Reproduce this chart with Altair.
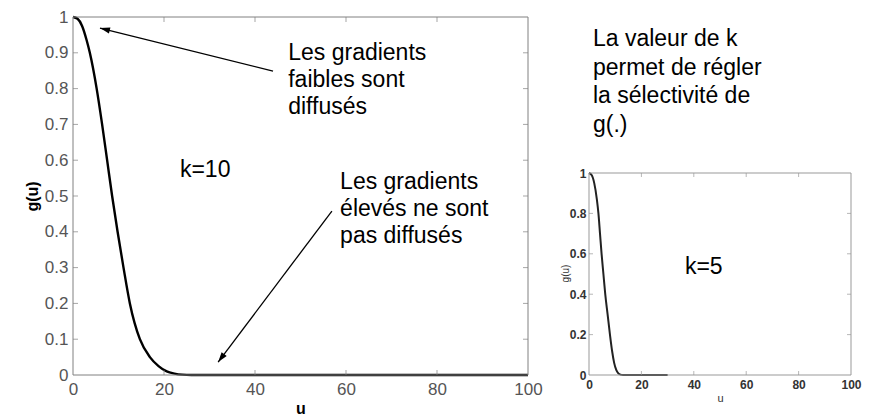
import math
import altair as alt
import pandas as pd

FONT = "Liberation Sans"

# ---- data ----
u_k10 = [0, 1, 2, 3, 3.7, 5.2, 6.4, 7.5, 8.6, 9.8, 11.1, 12.5, 14.7, 16.9, 18.8,
         20.6, 22.3, 24, 26, 30, 40, 50, 60, 70, 80, 90, 100]
g_k10 = [1.0, 0.995, 0.975, 0.935, 0.9, 0.8, 0.7, 0.6, 0.5, 0.4, 0.3, 0.2, 0.1, 0.05,
         0.025, 0.01, 0.004, 0.001, 0, 0, 0, 0, 0, 0, 0, 0, 0]

u_k5 = [0, 1, 2, 3, 3.6, 4.2, 4.8, 5.5, 6.2, 7.1, 8.0, 8.8, 9.6, 10.4, 11.2, 12, 13, 20, 30]
g_k5 = [1.0, 0.99, 0.95, 0.87, 0.8, 0.7, 0.6, 0.5, 0.4, 0.3, 0.2, 0.12, 0.06, 0.025,
        0.008, 0.002, 0, 0, 0]

x_ticks = [0, 20, 40, 60, 80, 100]
y_ticks_main = [0, 0.1, 0.2, 0.3, 0.4, 0.5, 0.6, 0.7, 0.8, 0.9, 1]
y_ticks_small = [0, 0.2, 0.4, 0.6, 0.8, 1]
inner_x = [20, 40, 60, 80]
inner_y_main = [0.1, 0.2, 0.3, 0.4, 0.5, 0.6, 0.7, 0.8, 0.9]
inner_y_small = [0.2, 0.4, 0.6, 0.8]

# annotations (data coordinates)
main_text = ["Les gradients\nfaibles sont\ndiffusés", "k=10",
             "Les gradients\nélevés ne sont\npas diffusés"]
main_text_u = [47.3, 23.5, 58.7]
main_text_g = [0.879, 0.553, 0.519]

arrow_u = [43.96, 56.9]
arrow_g = [0.849, 0.458]
arrow_u2 = [5.93, 31.9]
arrow_g2 = [0.969, 0.036]

small_text = ["La valeur de k\npermet de régler\nla sélectivité de\ng(.)", "k=5"]
small_text_u = [1.5, 36.6]
small_text_g = [1.629, 0.5]

# ---- geometry ----
MW, MH = 455, 358
SW, SH = 262, 358
S_YMAX = 358 / 202

FRAME_M = "#808080"
FRAME_S = "#999999"

xs_m = alt.Scale(domain=[0, 100], nice=False, zero=False)
ys_m = alt.Scale(domain=[0, 1], nice=False, zero=False)
xs_s = alt.Scale(domain=[0, 100], nice=False, zero=False)
ys_s = alt.Scale(domain=[0, S_YMAX], nice=False, zero=False)

ax_xm = alt.Axis(
    values=x_ticks, ticks=False, domain=False, grid=False, labelFlush=False,
    labelFont=FONT, labelFontSize=17, labelColor="#555555", labelPadding=6,
    title="u", titleFont=FONT, titleFontSize=16, titleFontWeight="bold",
    titleColor="black", titleY=33, titleBaseline="middle")
ax_ym = alt.Axis(
    values=y_ticks_main, format="~g", ticks=False, domain=False, grid=False,
    labelFlush=False, labelFont=FONT, labelFontSize=17, labelColor="#555555",
    labelPadding=5, title="g(u)", titleFont=FONT, titleFontSize=16,
    titleFontWeight="bold", titleColor="black", titleAngle=270,
    titleX=-41, titleY=179, titleBaseline="middle", titleAlign="center")
ax_xs = alt.Axis(
    values=x_ticks, ticks=False, domain=False, grid=False, labelFlush=False,
    labelFont=FONT, labelFontSize=12, labelFontWeight="bold", labelColor="#333333",
    labelPadding=4, title="u", titleFont=FONT, titleFontSize=11,
    titleFontWeight="normal", titleColor="#333333", titleY=23,
    titleBaseline="middle")
ax_ys = alt.Axis(
    values=y_ticks_small, format="~g", ticks=False, domain=False, grid=False,
    labelFlush=False, labelFont=FONT, labelFontSize=12, labelFontWeight="bold",
    labelColor="#333333", labelPadding=3, title="g(u)", titleFont=FONT,
    titleFontSize=10, titleFontWeight="normal", titleColor="#333333",
    titleAngle=270, titleX=-24, titleY=256, titleBaseline="middle",
    titleAlign="center")


def ticks_layer(xs, ys, ax, ay, uvals, gvals, orient, xoff, yoff, size, color):
    df = pd.DataFrame({"u": uvals, "g": gvals})
    return alt.Chart(df).mark_tick(orient=orient, size=size, thickness=1, color=color,
                                   xOffset=xoff, yOffset=yoff).encode(
        x=alt.X("u:Q", scale=xs, axis=ax),
        y=alt.Y("g:Q", scale=ys, axis=ay),
    )


def frame_layer(xs, ys, ax, ay, color):
    df = pd.DataFrame({"u": [0], "u2": [100], "g": [0], "g2": [1]})
    return alt.Chart(df).mark_rect(fill="transparent", stroke=color, strokeWidth=1).encode(
        x=alt.X("u:Q", scale=xs, axis=ax), x2="u2:Q",
        y=alt.Y("g:Q", scale=ys, axis=ay), y2="g2:Q",
    )


# ---- main plot ----
df10 = pd.DataFrame({"u": u_k10, "g": g_k10})
curve10 = alt.Chart(df10).mark_line(color="black", strokeWidth=2.4, interpolate="monotone").encode(
    x=alt.X("u:Q", scale=xs_m, axis=ax_xm),
    y=alt.Y("g:Q", scale=ys_m, axis=ax_ym),
)

main_txt_df = pd.DataFrame({"u": main_text_u, "g": main_text_g, "t": main_text})
main_txt = alt.Chart(main_txt_df).mark_text(
    align="left", baseline="alphabetic", font=FONT, fontSize=23, lineHeight=27,
    lineBreak="\n", color="black").encode(
    x=alt.X("u:Q", scale=xs_m, axis=ax_xm),
    y=alt.Y("g:Q", scale=ys_m, axis=ax_ym),
    text="t:N",
)

# arrow angles from pixel-space direction
px_u = MW / 100.0
px_g = MH / 1.0
angles = []
for a, b, c, d in zip(arrow_u, arrow_g, arrow_u2, arrow_g2):
    dx = (c - a) * px_u
    dy = -(d - b) * px_g
    angles.append(math.degrees(math.atan2(dx, -dy)) % 360)

arrow_df = pd.DataFrame({"u": arrow_u, "g": arrow_g, "u2": arrow_u2, "g2": arrow_g2,
                         "ang": angles})
arrow_lines = alt.Chart(arrow_df).mark_rule(color="black", strokeWidth=1.3).encode(
    x=alt.X("u:Q", scale=xs_m, axis=ax_xm), x2="u2:Q",
    y=alt.Y("g:Q", scale=ys_m, axis=ax_ym), y2="g2:Q",
)
head_df = pd.DataFrame({"u": arrow_u2, "g": arrow_g2, "ang": angles})
arrow_heads = alt.Chart(head_df).mark_point(
    shape="M0,0L0.32,1L-0.32,1Z", filled=True, color="black", opacity=1, size=400).encode(
    x=alt.X("u:Q", scale=xs_m, axis=ax_xm),
    y=alt.Y("g:Q", scale=ys_m, axis=ax_ym),
    angle=alt.Angle("ang:Q", scale=None),
)

main = alt.layer(
    curve10,
    frame_layer(xs_m, ys_m, ax_xm, ax_ym, FRAME_M),
    ticks_layer(xs_m, ys_m, ax_xm, ax_ym, inner_x, [0] * 4, "vertical", 0, -2.5, 5, FRAME_M),
    ticks_layer(xs_m, ys_m, ax_xm, ax_ym, inner_x, [1] * 4, "vertical", 0, 2.5, 5, FRAME_M),
    ticks_layer(xs_m, ys_m, ax_xm, ax_ym, [0] * 9, inner_y_main, "horizontal", 2.5, 0, 5, FRAME_M),
    ticks_layer(xs_m, ys_m, ax_xm, ax_ym, [100] * 9, inner_y_main, "horizontal", -2.5, 0, 5, FRAME_M),
    arrow_lines, arrow_heads, main_txt,
).properties(width=MW, height=MH)

# ---- small plot ----
df5 = pd.DataFrame({"u": u_k5, "g": g_k5})
curve5 = alt.Chart(df5).mark_line(color="#222222", strokeWidth=2, interpolate="monotone").encode(
    x=alt.X("u:Q", scale=xs_s, axis=ax_xs),
    y=alt.Y("g:Q", scale=ys_s, axis=ax_ys),
)

small_txt_df = pd.DataFrame({"u": small_text_u, "g": small_text_g, "t": small_text})
small_txt = alt.Chart(small_txt_df).mark_text(
    align="left", baseline="alphabetic", font=FONT, fontSize=23, lineHeight=28.7,
    lineBreak="\n", color="black").encode(
    x=alt.X("u:Q", scale=xs_s, axis=ax_xs),
    y=alt.Y("g:Q", scale=ys_s, axis=ax_ys),
    text="t:N",
)

small = alt.layer(
    curve5,
    frame_layer(xs_s, ys_s, ax_xs, ax_ys, FRAME_S),
    ticks_layer(xs_s, ys_s, ax_xs, ax_ys, inner_x, [0] * 4, "vertical", 0, -2, 4, FRAME_S),
    ticks_layer(xs_s, ys_s, ax_xs, ax_ys, inner_x, [1] * 4, "vertical", 0, 2, 4, FRAME_S),
    ticks_layer(xs_s, ys_s, ax_xs, ax_ys, [0] * 4, inner_y_small, "horizontal", 2, 0, 4, FRAME_S),
    ticks_layer(xs_s, ys_s, ax_xs, ax_ys, [100] * 4, inner_y_small, "horizontal", -2, 0, 4, FRAME_S),
    small_txt,
).properties(width=SW, height=SH)

chart = alt.hconcat(main, small, spacing=61, bounds="flush").properties(
    padding={"left": 16, "top": 0, "right": 0, "bottom": 0}
).configure_view(strokeWidth=0)

chart.save("out.html", embed_options={"renderer": "svg", "actions": False})
